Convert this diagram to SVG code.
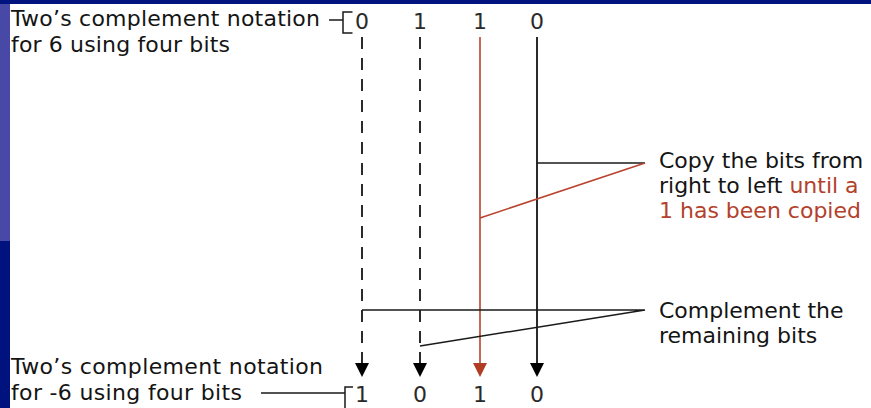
<svg xmlns="http://www.w3.org/2000/svg" width="871" height="408" viewBox="0 0 871 408">
<defs>
<style>
.t{font-family:"DejaVu Sans","Liberation Sans",sans-serif;font-size:22px;fill:#141414}
.r{fill:#b3412c}
.d{font-family:"DejaVu Sans","Liberation Sans",sans-serif;font-size:22px;fill:#2a2a2a;text-anchor:middle}
.ln{stroke:#2a2a2a;stroke-width:2;fill:none}
.dash{stroke:#2a2a2a;stroke-width:2;fill:none;stroke-dasharray:12 9}
.red{stroke:#b8442e;stroke-width:1.6;fill:none}
.ld{stroke:#1a1a1a;stroke-width:1.5;fill:none}
.ah{fill:#000}
.ahr{fill:#b13c26}
</style>
</defs>
<rect x="0" y="0" width="871" height="408" fill="#ffffff"/>
<rect x="0" y="0" width="10" height="241" fill="#4848a6"/>
<rect x="0" y="241" width="10" height="167" fill="#00127e"/>
<rect x="0" y="0" width="871" height="4" fill="#00147f"/>

<g id="top-label">
<text class="t" x="11" y="26" textLength="309">Two’s complement notation</text>
<text class="t" x="11" y="52" textLength="219">for 6 using four bits</text>
<path class="ld" d="M329 20H343M352.5 12H343V33H352.5"/>
</g>
<g id="top-bits">
<text class="d" x="362" y="29">0</text>
<text class="d" x="420" y="29">1</text>
<text class="d" x="480" y="29">1</text>
<text class="d" x="537" y="29">0</text>
</g>
<g id="bottom-label">
<text class="t" x="11" y="374" textLength="312">Two’s complement notation</text>
<text class="t" x="11" y="400" textLength="231">for -6 using four bits</text>
<path class="ld" d="M261 393H345M353 387H345V408"/>
</g>
<g id="bottom-bits">
<text class="d" x="362" y="402">1</text>
<text class="d" x="420" y="402">0</text>
<text class="d" x="480" y="402">1</text>
<text class="d" x="537" y="402">0</text>
</g>
<g id="copy-note">
<text class="t" x="659" y="168">Copy the bits from</text>
<text class="t" x="659" y="193">right to left <tspan class="r">until a</tspan></text>
<text class="t r" x="659" y="218">1 has been copied</text>
</g>
<g id="complement-note">
<text class="t" x="659" y="318">Complement the</text>
<text class="t" x="659" y="343">remaining bits</text>
</g>
<g id="connectors">
<line class="dash" x1="362" y1="37" x2="362" y2="364"/>
<line class="dash" x1="420" y1="37" x2="420" y2="364"/>
<line class="red" x1="480" y1="37" x2="480" y2="364"/>
<line class="ln" x1="537" y1="37" x2="537" y2="364"/>
<polygon class="ah" points="355,363 369,363 362,377"/>
<polygon class="ah" points="413,363 427,363 420,377"/>
<polygon class="ahr" points="473,363 487,363 480,377"/>
<polygon class="ah" points="530,363 544,363 537,377"/>
<polyline class="ld" points="537,163 645,163"/>
<polyline class="red" points="645,163 480,218"/>
<polyline class="ld" points="362,310 645,310 420,346"/>
</g>
</svg>
